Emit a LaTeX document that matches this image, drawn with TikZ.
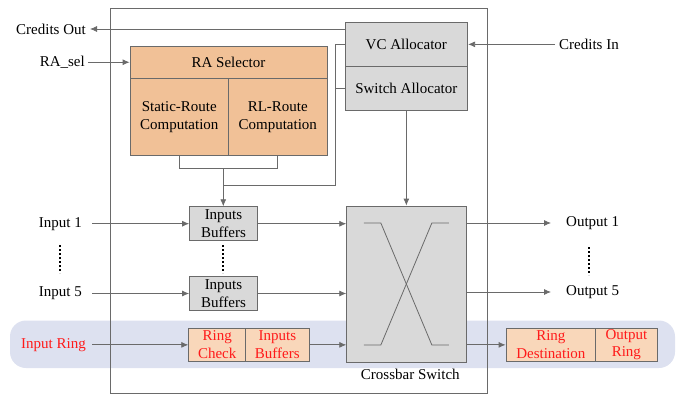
\documentclass[tikz,border=0pt]{standalone}
\usepackage{fontspec}
\setmainfont{Liberation Serif}
\usetikzlibrary{arrows.meta,calc}
\definecolor{linec}{HTML}{6A6A6A}
\definecolor{raorange}{HTML}{F1C197}
\definecolor{ringorange}{HTML}{F9D7BA}
\definecolor{boxgray}{HTML}{D9D9D9}
\definecolor{bandblue}{HTML}{DDE1F0}
\definecolor{ringred}{HTML}{FF1A1A}
\tikzset{
  blk/.style={draw=linec, line width=0.8pt, rectangle, inner sep=0pt, align=center,
              font=\fontsize{15}{17.5}\selectfont},
  grayblk/.style={blk, fill=boxgray},
  rablk/.style={blk, fill=raorange, font=\fontsize{15}{18}\selectfont},
  ringblk/.style={blk, fill=ringorange, text=ringred},
  lbl/.style={inner sep=0pt, font=\fontsize{15}{18}\selectfont},
  wire/.style={draw=linec, line width=0.8pt},
  arr/.style={wire, -{Latex[length=7pt,width=6pt]}},
  vdots/.style={line width=1.7pt, dash pattern=on 1.7pt off 2.3pt, black}
}
\begin{document}
\begin{tikzpicture}[x=1pt,y=-1pt]
\useasboundingbox (0,0) rectangle (681,394);

% ring band behind everything
\fill[bandblue, rounded corners=16pt] (10,320.5) rectangle (675,368);

% router boundary
\node[draw=linec, line width=0.8pt, minimum width=377pt, minimum height=385pt, inner sep=0pt]
  (router) at (298.5,200.5) {};

% RA selector block
\node[rablk, minimum width=197pt, minimum height=32.5pt] (ra) at (228.5,62.25) {RA Selector};
\node[rablk, minimum width=98.5pt, minimum height=76.5pt] (static) at (179.25,116.75) {Static-Route\\Computation};
\node[rablk, minimum width=98.5pt, minimum height=76.5pt] (rl) at (277.75,116.75) {RL-Route\\Computation};

% allocators
\node[grayblk, minimum width=122.7pt, minimum height=43.3pt] (vc) at (406.35,44.35) {VC Allocator};
\node[grayblk, minimum width=122.7pt, minimum height=44pt] (sw) at (406.35,88) {Switch Allocator};

% input buffers
\node[grayblk, minimum width=68pt, minimum height=34pt] (buf1) at (223.5,223.7) {Inputs\\Buffers};
\node[grayblk, minimum width=68pt, minimum height=34pt] (buf5) at (223.5,293.5) {Inputs\\Buffers};

% ring input stage
\node[ringblk, minimum width=57pt, minimum height=33.7pt] (rcheck) at (217.2,344.85) {Ring\\Check};
\node[ringblk, minimum width=63.3pt, minimum height=33.7pt] (rbuf) at (277.35,344.85) {Inputs\\Buffers};

% crossbar
\node[grayblk, minimum width=119.3pt, minimum height=156pt] (xbar) at (406.35,284) {};
\node[lbl, anchor=north] (xbarlbl) at ($(xbar.south)+(4,6)$) {Crossbar Switch};
\draw[wire] ($(xbar.center)+(-42.5,-61)$) -- ($(xbar.center)+(-25.5,-61)$)
  -- ($(xbar.center)+(25.5,61)$) -- ($(xbar.center)+(42.5,61)$);
\draw[wire] ($(xbar.center)+(42.5,-61)$) -- ($(xbar.center)+(25.5,-61)$)
  -- ($(xbar.center)+(-25.5,61)$) -- ($(xbar.center)+(-42.5,61)$);

% ring output stage
\node[ringblk, minimum width=89.7pt, minimum height=32.5pt] (rdest) at (550.85,344.85) {Ring\\Destination};
\node[ringblk, minimum width=61.3pt, minimum height=32.5pt] (rout) at (626.35,344.85) {Output\\Ring};

% external labels
\node[lbl, anchor=east] (cout) at (86,29) {Credits Out};
\node[lbl, anchor=east] (rasel) at (85,62.25) {RA\_sel};
\node[lbl, anchor=west] (cin) at (559,44.35) {Credits In};
\node[lbl, anchor=east] (in1) at (82,223.7) {Input 1};
\node[lbl, anchor=east] (in5) at (82,293.5) {Input 5};
\node[lbl, anchor=east, text=ringred] (inring) at (86,344.85) {Input Ring};
\node[lbl, anchor=west] (out1) at (566,223) {Output 1};
\node[lbl, anchor=west] (out5) at (566,292) {Output 5};

% control wiring
\draw[arr] (vc.west |- 0,29) -- (cout.east -| 90,0);
\draw[arr] (rasel.east) ++(3,0) -- (ra.west);
\draw[arr] (cin.west) ++(-4,0) -- (vc.east);
\coordinate (bus) at (335.7,185);
\coordinate (join) at (223.3,168.3);
\draw[wire] (static.south) -- (static.south |- join) -- (rl.south |- join) -- (rl.south);
\draw[wire] (vc.west) -- (vc.west -| bus) -- (bus) -- (bus -| join);
\draw[wire] (sw.west) -- (sw.west -| bus);
\draw[arr] (join) -- (buf1.north -| join);
\draw[arr] (sw.south) -- (sw.south |- xbar.north);

% data path inputs
\draw[arr] (in1.east) ++(10,0) -- (buf1.west);
\draw[arr] (in5.east) ++(10,0) -- (buf5.west);
\draw[arr] (inring.east) ++(6,0) -- (rcheck.west);
\draw[arr] (buf1.east) -- (buf1.east -| xbar.west);
\draw[arr] (buf5.east) -- (buf5.east -| xbar.west);
\draw[arr] (rbuf.east) -- (rbuf.east -| xbar.west);

% data path outputs
\draw[arr] (xbar.east |- out1.west) -- ($(out1.west)+(-15,0)$);
\draw[arr] (xbar.east |- out5.west) -- ($(out5.west)+(-15,0)$);
\draw[arr] (xbar.east |- rdest.west) -- (rdest.west);

% ellipsis dots
\draw[vdots] (60,245) -- (60,273);
\draw[vdots] (223.3,245) -- (223.3,273);
\draw[vdots] (589,247) -- (589,275);
\end{tikzpicture}
\end{document}
